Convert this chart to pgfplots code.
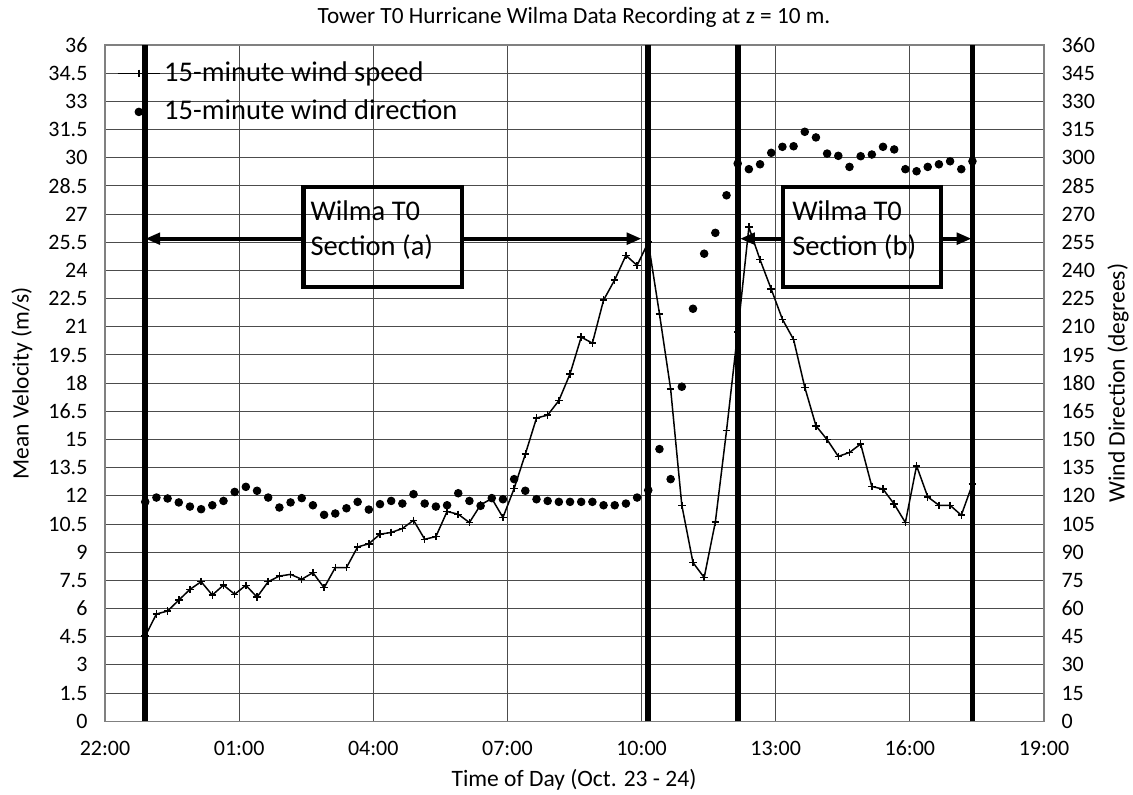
\documentclass[border=0pt]{standalone}
\usepackage{fontspec}
\setmainfont{Carlito}
\usepackage{pgfplots}
\usepackage{pgfplotstable}
\pgfplotsset{compat=1.18}
\usetikzlibrary{arrows.meta}

\pgfplotstableread{
t v d
0.9 4.53 116.8
1.15 5.71 119.1
1.4 5.87 118.6
1.65 6.45 116.5
1.9 7.02 114.3
2.15 7.43 112.9
2.4 6.72 115.0
2.65 7.25 117.3
2.9 6.76 122.1
3.15 7.24 124.8
3.4 6.61 122.7
3.65 7.43 119.1
3.9 7.73 113.8
4.15 7.82 116.5
4.4 7.56 118.8
4.65 7.91 115.0
4.9 7.11 109.9
5.15 8.18 110.6
5.4 8.18 113.4
5.65 9.28 116.8
5.9 9.45 112.7
6.15 9.96 115.6
6.4 10.05 117.3
6.65 10.26 115.9
6.9 10.70 120.9
7.15 9.69 115.9
7.4 9.83 114.3
7.65 11.17 115.0
7.9 11.02 121.4
8.15 10.58 117.3
8.4 11.52 114.7
8.65 11.86 118.8
8.9 10.85 118.2
9.15 12.39 128.9
9.4 14.22 122.7
9.65 16.14 118.2
9.9 16.30 117.3
10.15 17.07 116.8
10.4 18.49 116.8
10.65 20.45 116.8
10.9 20.13 116.8
11.15 22.42 115.0
11.4 23.50 115.0
11.65 24.80 115.9
11.9 24.27 119.1
12.15 25.50 123.0
12.4 21.69 144.9
12.65 17.69 128.9
12.9 11.50 178.1
13.15 8.45 219.6
13.4 7.65 248.9
13.65 10.61 260.0
13.9 15.47 280.0
14.15 20.71 296.9
14.4 26.30 293.9
14.65 24.57 296.5
14.9 23.00 302.6
15.15 21.40 305.8
15.4 20.32 306.1
15.65 17.78 313.8
15.9 15.73 310.8
16.15 14.99 302.2
16.4 14.10 301.0
16.65 14.31 295.1
16.9 14.76 300.8
17.15 12.50 301.7
17.4 12.36 305.8
17.65 11.56 304.4
17.9 10.58 293.9
18.15 13.60 292.8
18.4 11.95 295.1
18.65 11.50 296.5
18.9 11.50 298.1
19.15 10.97 293.9
19.4 12.62 298.1
}\wilma

\begin{document}
\begin{tikzpicture}
\useasboundingbox (0,0) rectangle (453.2pt,318pt);
\pgfplotsset{
  common/.style={
    scale only axis, width=375.6pt, height=270.52pt,
    at={(42pt,29.48pt)}, anchor=south west,
    xmin=0, xmax=21,
    /pgf/number format/assume math mode=true,
    tick label style={font=\fontsize{8.8}{10}\selectfont},
    major tick length=0pt,
    axis line style={black!50, line width=0.5pt},
    label style={font=\fontsize{9.4}{11}\selectfont},
  }
}
\begin{axis}[common,
  ymin=0, ymax=36,
  ytick={0,1.5,3,4.5,6,7.5,9,10.5,12,13.5,15,16.5,18,19.5,21,22.5,24,25.5,27,28.5,30,31.5,33,34.5,36},
  xtick={0,3,6,9,12,15,18,21},
  xticklabels={22:00,01:00,04:00,07:00,10:00,13:00,16:00,19:00},
  xticklabel style={yshift=-4.3pt},
  yticklabel style={xshift=-3.5pt},
  grid=major, grid style={black!70, line width=0.4pt},
  every axis title shift=0pt,
  title={Tower T0 Hurricane Wilma Data Recording at z = 10 m.},
  title style={at={(axis description cs:0.4995,1.0321)}, anchor=base, font=\fontsize{9.3}{11}\selectfont},
  xlabel={Time of Day (Oct. 23 - 24)},
  xlabel style={at={(axis description cs:0.4995,-0.0967)}, anchor=base},
  ylabel={Mean Velocity (m/s)},
  ylabel style={at={(axis description cs:-0.0884,0.5)}, anchor=center},
  legend style={at={(axis description cs:0.012,0.981)}, anchor=north west, draw=none, fill=none,
    font=\fontsize{11.4}{13}\selectfont, row sep=3.4pt, inner sep=0pt, nodes={inner sep=1.3pt}},
  legend cell align=left,
]
% section boundary lines
\addplot[black, line width=2.3pt, forget plot] coordinates {(0.9,0) (0.9,36)};
\addplot[black, line width=2.3pt, forget plot] coordinates {(12.15,0) (12.15,36)};
\addplot[black, line width=2.3pt, forget plot] coordinates {(14.15,0) (14.15,36)};
\addplot[black, line width=2.3pt, forget plot] coordinates {(19.4,0) (19.4,36)};
% section arrows and boxes
\draw[line width=1.6pt, {Triangle[length=6pt,width=4.6pt]}-] (axis cs:0.9,25.69) -- (axis cs:4.44,25.69);
\draw[line width=1.6pt, -{Triangle[length=6pt,width=4.6pt]}] (axis cs:7.98,25.69) -- (axis cs:12.0,25.69);
\draw[line width=1.6pt, {Triangle[length=6pt,width=4.6pt]}-] (axis cs:14.2,25.69) -- (axis cs:15.16,25.69);
\draw[line width=1.6pt, -{Triangle[length=6pt,width=4.6pt]}] (axis cs:18.69,25.69) -- (axis cs:19.38,25.69);
\draw[line width=1.7pt] (axis cs:4.44,23.1) rectangle (axis cs:7.98,28.45);
\draw[line width=1.7pt] (axis cs:15.16,23.1) rectangle (axis cs:18.69,28.45);
\node[anchor=base west, inner sep=0pt, font=\fontsize{11.4}{13}\selectfont] at (axis cs:4.585,26.68) {Wilma T0};
\node[anchor=base west, inner sep=0pt, font=\fontsize{11.4}{13}\selectfont] at (axis cs:4.585,24.8) {Section (a)};
\node[anchor=base west, inner sep=0pt, font=\fontsize{11.4}{13}\selectfont] at (axis cs:15.36,26.68) {Wilma T0};
\node[anchor=base west, inner sep=0pt, font=\fontsize{11.4}{13}\selectfont] at (axis cs:15.36,24.8) {Section (b)};
% wind speed
\addplot[black, line width=0.6pt, mark=+, mark size=1.5pt, mark options={line width=0.6pt}] table[x=t, y=v] {\wilma};
\addlegendentry{15-minute wind speed}
\addlegendimage{black, only marks, mark=*, mark size=1.5pt}
\addlegendentry{15-minute wind direction}
\end{axis}
\begin{axis}[common,
  ymin=0, ymax=360,
  ytick={0,15,...,360},
  axis x line=none, axis y line*=right,
  yticklabel style={xshift=3.5pt},
  ylabel={Wind Direction (degrees)},
  ylabel style={at={(axis description cs:1.0788,0.5)}, anchor=center, rotate=0},
]
\addplot[black, only marks, mark=*, mark size=1.5pt] table[x=t, y=d] {\wilma};
\end{axis}
\end{tikzpicture}
\end{document}
